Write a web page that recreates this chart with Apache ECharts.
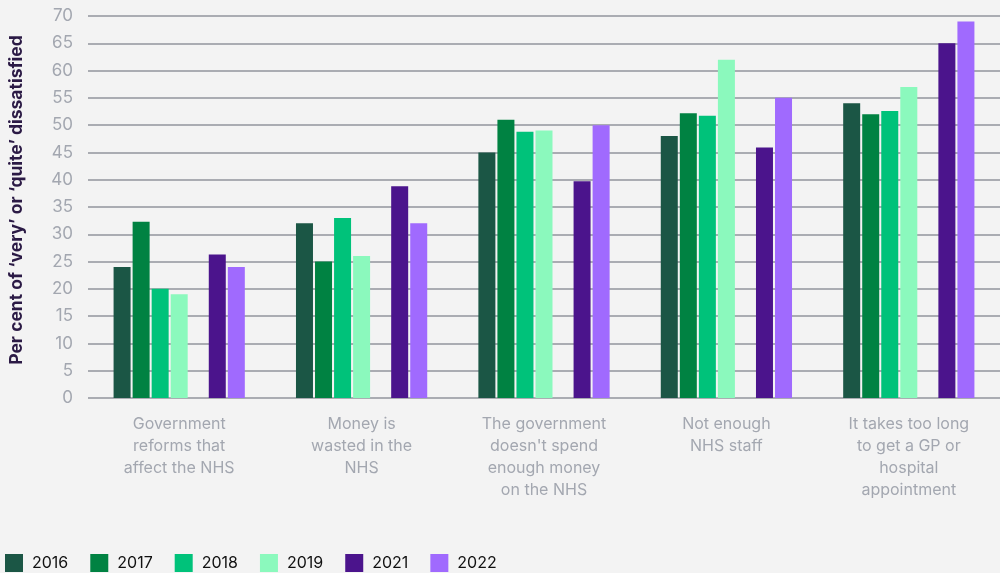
<!DOCTYPE html>
<html>
<head>
<meta charset="utf-8">
<script src="https://cdn.jsdelivr.net/npm/echarts@6/dist/echarts.min.js"></script>
<style>
html,body{margin:0;padding:0;background:#f3f3f3;}
#chart{width:1000px;height:573px;}
</style>
</head>
<body>
<div id="chart"></div>
<script>
const categories = [
  "Government\nreforms that\naffect the NHS",
  "Money is\nwasted in the\nNHS",
  "The government\ndoesn't spend\nenough money\non the NHS",
  "Not enough\nNHS staff",
  "It takes too long\nto get a GP or\nhospital\nappointment"
];
const years = ["2016", "2017", "2018", "2019", "2020", "2021", "2022"];
const v2016 = [24, 32, 45, 48, 54];
const v2017 = [32.3, 25, 51, 52.2, 52];
const v2018 = [20, 33, 48.8, 51.7, 52.6];
const v2019 = [19, 26, 49, 62, 57];
const v2020 = [null, null, null, null, null];
const v2021 = [26.3, 38.8, 39.7, 45.9, 65];
const v2022 = [24, 32, 50, 55, 69];
const yTicks = { min: 0, max: 70, interval: 5 };
const yTitle = "Per cent of ‘very’ or ‘quite’ dissatisfied";

const colors = {"2016":"#1b5645","2017":"#008242","2018":"#00c27a","2019":"#8bf9bd","2020":"#f3f3f3","2021":"#4b148c","2022":"#a06afe"};
const dataByYear = {"2016":v2016,"2017":v2017,"2018":v2018,"2019":v2019,"2020":v2020,"2021":v2021,"2022":v2022};

const chart = echarts.init(document.getElementById('chart'));
chart.setOption({
  backgroundColor: '#f3f3f3',
  textStyle: { fontFamily: 'Inter, Roboto, sans-serif' },
  grid: { left: 87, right: 0, top: 16, bottom: 175 },
  legend: {
    data: years.filter(y => y !== "2020"),
    left: 0, top: 549,
    itemWidth: 18, itemHeight: 18, itemGap: 22,
    icon: 'rect',
    textStyle: { color: '#111', fontSize: 16, fontFamily: 'Inter, Roboto, sans-serif', padding: [0,0,0,4] }
  },
  xAxis: {
    type: 'category',
    data: categories,
    axisLine: { show: false },
    axisTick: { show: false },
    axisLabel: { color: '#a3a7b0', fontSize: 16, lineHeight: 22, margin: 15, interval: 0, align: 'center' }
  },
  yAxis: {
    type: 'value',
    min: yTicks.min, max: yTicks.max, interval: yTicks.interval,
    name: yTitle,
    nameLocation: 'middle',
    nameGap: 62,
    nameTextStyle: { color: '#2b1a45', fontSize: 17.5, fontWeight: 'bold', padding: [0, 0, 0, 14] },
    axisLine: { show: false },
    axisTick: { show: false },
    axisLabel: { color: '#a3a7b0', fontSize: 17, margin: 15 },
    splitLine: { lineStyle: { color: '#aaacb2', width: 2 } }
  },
  series: years.map(y => ({
    name: y,
    type: 'bar',
    data: dataByYear[y],
    barWidth: 17,
    barGap: '12%',
    itemStyle: { color: colors[y] },
    silent: true
  })),
  animation: false
});
</script>
</body>
</html>
